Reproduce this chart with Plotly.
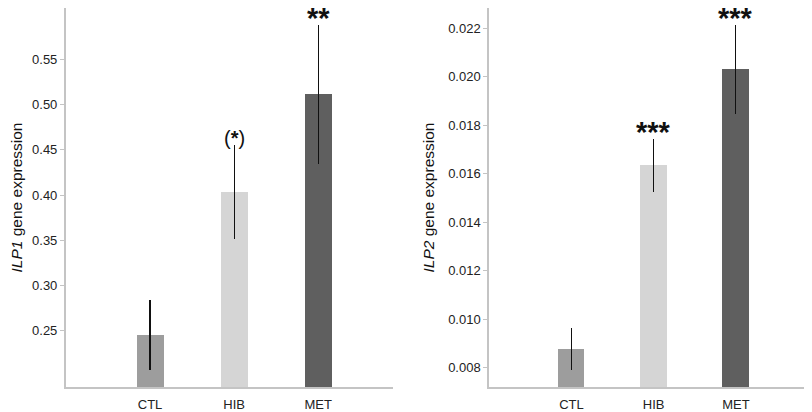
import plotly.graph_objects as go

categories = ["CTL", "HIB", "MET"]
bar_colors = ["#9d9d9d", "#d5d5d5", "#5f5f5f"]

ilp1_values = [0.2456, 0.4033, 0.5114]
ilp1_errors = [0.0383, 0.0515, 0.0769]
ilp1_marks = ["", "(<b>*</b>)", "<b>**</b>"]

ilp2_values = [0.00878, 0.01635, 0.0203]
ilp2_errors = [0.00086, 0.00109, 0.00183]
ilp2_marks = ["", "<b>***</b>", "<b>***</b>"]

ilp1_ticks = [0.25, 0.30, 0.35, 0.40, 0.45, 0.50, 0.55]
ilp2_ticks = [0.008, 0.010, 0.012, 0.014, 0.016, 0.018, 0.020, 0.022]

FONT = "Liberation Sans, Arial, sans-serif"
AXIS_COLOR = "#c4c4c4"

fig = go.Figure()

idx = list(range(len(categories)))

fig.add_trace(go.Bar(
    x=idx, y=ilp1_values, marker=dict(color=bar_colors, line=dict(width=0)),
    width=0.32,
    error_y=dict(type="data", array=ilp1_errors, color="#111111", thickness=1.1, width=0),
    xaxis="x", yaxis="y", showlegend=False,
))
fig.add_trace(go.Bar(
    x=idx, y=ilp2_values, marker=dict(color=bar_colors, line=dict(width=0)),
    width=0.32,
    error_y=dict(type="data", array=ilp2_errors, color="#111111", thickness=1.1, width=0),
    xaxis="x2", yaxis="y2", showlegend=False,
))

annotations = []
for i, (v, e, m) in enumerate(zip(ilp1_values, ilp1_errors, ilp1_marks)):
    if m:
        paren = "(" in m
        annotations.append(dict(x=i, y=v + e, xref="x", yref="y", text=m, showarrow=False,
                                yanchor="bottom", yshift=-6 if paren else -11,
                                font=dict(family=FONT, size=20 if paren else 29, color="#111111")))
for i, (v, e, m) in enumerate(zip(ilp2_values, ilp2_errors, ilp2_marks)):
    if m:
        annotations.append(dict(x=i, y=v + e, xref="x2", yref="y2", text=m, showarrow=False,
                                yanchor="bottom", yshift=-11,
                                font=dict(family=FONT, size=29, color="#111111")))

xaxis_common = dict(
    range=[-1.0, 2.89], tickmode="array", tickvals=idx, ticktext=categories,
    showline=True, linecolor=AXIS_COLOR, linewidth=2, showgrid=False, zeroline=False,
    ticks="", ticklabelstandoff=4, tickfont=dict(family=FONT, size=13, color="#222222"),
    fixedrange=True,
)
yaxis_common = dict(
    showline=True, linecolor=AXIS_COLOR, linewidth=2, showgrid=False, zeroline=False,
    ticks="outside", ticklen=4, tickcolor=AXIS_COLOR, tickwidth=1,
    tickfont=dict(family=FONT, size=13, color="#222222"),
    tickmode="array",
)

# the page body adds an 8px offset, so the figure is 804x404 and placed from (8, 8)
fig.update_layout(
    width=804, height=404,
    margin=dict(l=0, r=0, t=0, b=0, autoexpand=False),
    paper_bgcolor="white", plot_bgcolor="white",
    xaxis=dict(domain=[0.0721, 0.4789], anchor="y", **xaxis_common),
    xaxis2=dict(domain=[0.5986, 0.9963], anchor="y2", **xaxis_common),
    yaxis=dict(domain=[0.0619, 1.0], anchor="x", range=[0.188, 0.6066],
               tickvals=ilp1_ticks, ticktext=[f"{t:.2f}" for t in ilp1_ticks],
               title=dict(text="<i>ILP1</i> gene expression", standoff=10,
                          font=dict(family=FONT, size=15.5, color="#111111")),
               **yaxis_common),
    yaxis2=dict(domain=[0.0619, 1.0], anchor="x2", range=[0.0072, 0.02283],
                tickvals=ilp2_ticks, ticktext=[f"{t:.3f}" for t in ilp2_ticks],
                title=dict(text="<i>ILP2</i> gene expression", standoff=10,
                           font=dict(family=FONT, size=15.5, color="#111111")),
                **yaxis_common),
    annotations=annotations,
    bargap=0,
)

fig.write_html("out.html")
